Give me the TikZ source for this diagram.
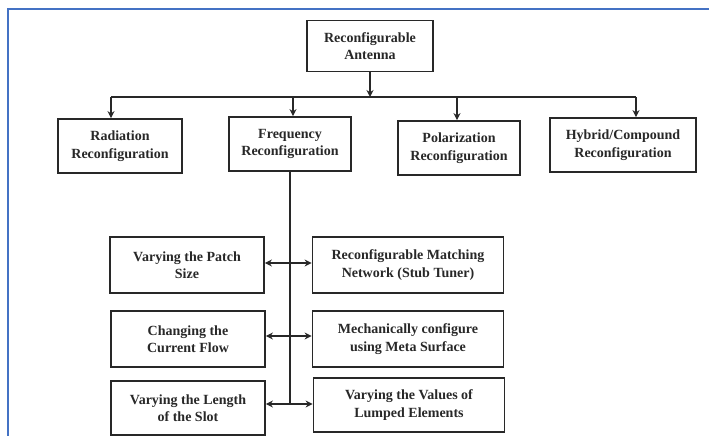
\documentclass[tikz,border=0pt]{standalone}
\usepackage{fontspec}
\setmainfont{Liberation Serif}
\usetikzlibrary{positioning, arrows.meta}
\definecolor{frameblue}{RGB}{68,114,196}
\definecolor{inkgray}{RGB}{40,40,40}
\tikzset{
  block/.style={
    rectangle,
    draw=inkgray, line width=1.8pt,
    fill=white,
    align=center,
    text=inkgray,
    font=\fontsize{14}{17.5}\selectfont\bfseries,
    inner sep=2pt
  },
  link/.style={draw=inkgray, line width=1.8pt}
}

\begin{document}
\begin{tikzpicture}[x=1pt, y=-1pt, >={Stealth[length=7pt,width=7pt]}]
          \useasboundingbox (0,0) rectangle (709,436);
          \draw[frameblue, line width=2.5pt] (8,436) -- (8,9) -- (709,9);

          \node[block, minimum width=126pt, minimum height=51pt] (antenna) at (370,46) {Reconfigurable\\Antenna};

          \node[block, minimum width=124pt, minimum height=54pt] (radiation) at (120,146) {Radiation\\Reconfiguration};
          \node[block, minimum width=122pt, minimum height=54pt] (frequency) at (290,144) {Frequency\\Reconfiguration};
          \node[block, minimum width=122pt, minimum height=54pt] (polar) at (459,148) {Polarization\\Reconfiguration};
          \node[block, minimum width=146pt, minimum height=54pt] (hybrid) at (623,145) {Hybrid/Compound\\Reconfiguration};

          \node[block, minimum width=154pt, minimum height=56pt] (patch) at (187,265) {Varying the Patch\\Size};
          \node[block, minimum width=191pt, minimum height=56pt] (stub) at (408,265) {Reconfigurable Matching\\Network (Stub Tuner)};
          \node[block, minimum width=154pt, minimum height=56pt] (current) at (188,339) {Changing the\\Current Flow};
          \node[block, minimum width=191pt, minimum height=56pt] (meta) at (408,339) {Mechanically configure\\using Meta Surface};
          \node[block, minimum width=154pt, minimum height=54pt] (slot) at (188,408) {Varying the Length\\of the Slot};
          \node[block, minimum width=191pt, minimum height=54pt] (lumped) at (409,405) {Varying the Values of\\Lumped Elements};

          \coordinate (busl) at (111,97);
          \coordinate (busr) at (636,97);

          % antenna to the four kinds
          \draw[link, ->] (antenna.south) -- (antenna.south |- busl);
          \draw[link] (busl) -- (busr);
          \draw[link, ->] (busl) -- (busl |- radiation.north);
          \draw[link, ->] ([xshift=3pt]frequency.north |- busl) -- ([xshift=3pt]frequency.north);
          \draw[link, ->] ([xshift=-2pt]polar.north |- busl) -- ([xshift=-2pt]polar.north);
          \draw[link, ->] (busr) -- (busr |- hybrid.north);

          % frequency techniques
          \draw[link] (frequency.south) -- ([yshift=4pt]frequency.south |- slot.east);
          \draw[link, <->] ([yshift=2pt]patch.east) -- ([yshift=2pt]patch.east -| stub.west);
          \draw[link, <->] ([yshift=3pt]current.east) -- ([yshift=3pt]current.east -| meta.west);
          \draw[link, <->] ([yshift=4pt]slot.east) -- ([yshift=4pt]slot.east -| lumped.west);
        \end{tikzpicture}
\end{document}
